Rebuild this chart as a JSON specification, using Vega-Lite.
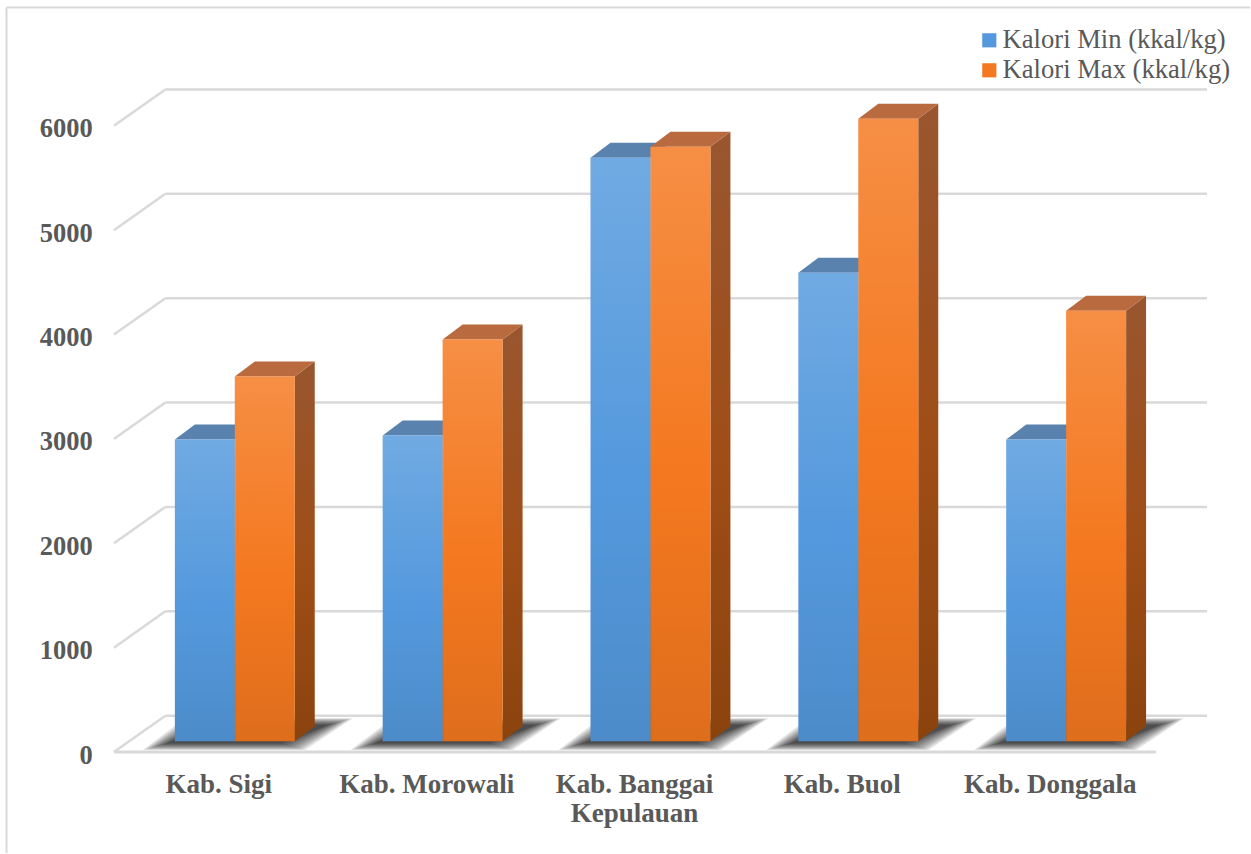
{
  "$schema": "https://vega.github.io/schema/vega-lite/v6.json",
  "width": 1251,
  "height": 854,
  "autosize": {"type": "fit", "contains": "padding"},
  "padding": 0,
  "background": "#ffffff",
  "config": {"view": {"stroke": null}},
  "data": {
    "values": [
      {"region": "Kab. Sigi", "series": "Kalori Min (kkal/kg)", "value": 2890},
      {"region": "Kab. Sigi", "series": "Kalori Max (kkal/kg)", "value": 3493},
      {"region": "Kab. Morowali", "series": "Kalori Min (kkal/kg)", "value": 2928},
      {"region": "Kab. Morowali", "series": "Kalori Max (kkal/kg)", "value": 3847},
      {"region": "Kab. Banggai Kepulauan", "series": "Kalori Min (kkal/kg)", "value": 5589},
      {"region": "Kab. Banggai Kepulauan", "series": "Kalori Max (kkal/kg)", "value": 5694},
      {"region": "Kab. Buol", "series": "Kalori Min (kkal/kg)", "value": 4488},
      {"region": "Kab. Buol", "series": "Kalori Max (kkal/kg)", "value": 5962},
      {"region": "Kab. Donggala", "series": "Kalori Min (kkal/kg)", "value": 2890},
      {"region": "Kab. Donggala", "series": "Kalori Max (kkal/kg)", "value": 4124}
    ]
  },
  "layer": [
    {
      "data": {"values": [{"level": 0}, {"level": 1000}, {"level": 2000}, {"level": 3000}, {"level": 4000}, {"level": 5000}, {"level": 6000}]},
      "transform": [
        {"calculate": "datum.level + 244", "as": "back"},
        {"calculate": "-0.3341", "as": "wallLeft"},
        {"calculate": "4.678", "as": "wallRight"}
      ],
      "mark": {"type": "rule", "color": "#D9D9D9", "strokeWidth": 2.5},
      "encoding": {
        "x": {"field": "wallLeft", "type": "quantitative", "scale": {"domain": [-1.12981, 4.88462], "nice": false}, "axis": null},
        "x2": {"field": "wallRight"},
        "y": {"field": "back", "type": "quantitative", "scale": {"domain": [-1071.8, 7100.5], "nice": false, "zero": false}, "axis": null}
      }
    },
    {
      "data": {"values": [{"level": 0}, {"level": 1000}, {"level": 2000}, {"level": 3000}, {"level": 4000}, {"level": 5000}, {"level": 6000}]},
      "transform": [
        {"calculate": "datum.level + 244", "as": "back"},
        {"calculate": "datum.level - 105", "as": "front"},
        {"calculate": "-0.5817", "as": "frontEdge"},
        {"calculate": "-0.3341", "as": "wallLeft"}
      ],
      "mark": {"type": "rule", "color": "#D9D9D9", "strokeWidth": 2.5},
      "encoding": {
        "x": {"field": "frontEdge", "type": "quantitative", "scale": {"domain": [-1.12981, 4.88462], "nice": false}, "axis": null},
        "x2": {"field": "wallLeft"},
        "y": {"field": "front", "type": "quantitative", "scale": {"domain": [-1071.8, 7100.5], "nice": false, "zero": false}, "axis": null},
        "y2": {"field": "back"}
      }
    },
    {
      "data": {"values": [{"level": 0}, {"level": 1000}, {"level": 2000}, {"level": 3000}, {"level": 4000}, {"level": 5000}, {"level": 6000}]},
      "transform": [
        {"calculate": "datum.level - 215", "as": "labelY"},
        {"calculate": "-0.6841", "as": "labelX"}
      ],
      "mark": {"type": "text", "font": "Liberation Serif", "fontSize": 26.5, "fontWeight": "bold", "color": "#595959", "align": "right", "baseline": "alphabetic"},
      "encoding": {
        "x": {"field": "labelX", "type": "quantitative", "scale": {"domain": [-1.12981, 4.88462], "nice": false}, "axis": null},
        "y": {"field": "labelY", "type": "quantitative", "scale": {"domain": [-1071.8, 7100.5], "nice": false, "zero": false}, "axis": null},
        "text": {"field": "level", "type": "quantitative", "format": "d"}
      }
    },
    {
      "data": {"values": [{"edge": "front of floor"}]},
      "transform": [
        {"calculate": "-105", "as": "floorY"},
        {"calculate": "-0.5817", "as": "floorLeft"},
        {"calculate": "4.4327", "as": "floorRight"}
      ],
      "mark": {"type": "rule", "color": "#D9D9D9", "strokeWidth": 3},
      "encoding": {
        "x": {"field": "floorLeft", "type": "quantitative", "scale": {"domain": [-1.12981, 4.88462], "nice": false}, "axis": null},
        "x2": {"field": "floorRight"},
        "y": {"field": "floorY", "type": "quantitative", "scale": {"domain": [-1071.8, 7100.5], "nice": false, "zero": false}, "axis": null}
      }
    },
    {
      "data": {"values": [{"edge": "top of frame"}]},
      "transform": [
        {"calculate": "7028.7", "as": "frameY"},
        {"calculate": "-1.0986", "as": "frameLeft"},
        {"calculate": "4.88462", "as": "frameRight"}
      ],
      "mark": {"type": "rule", "color": "#D9D9D9", "strokeWidth": 2},
      "encoding": {
        "x": {"field": "frameLeft", "type": "quantitative", "scale": {"domain": [-1.12981, 4.88462], "nice": false}, "axis": null},
        "x2": {"field": "frameRight"},
        "y": {"field": "frameY", "type": "quantitative", "scale": {"domain": [-1071.8, 7100.5], "nice": false, "zero": false}, "axis": null}
      }
    },
    {
      "data": {"values": [{"edge": "left of frame"}]},
      "transform": [
        {"calculate": "7028.7", "as": "frameTop"},
        {"calculate": "-1071.8", "as": "frameBottom"},
        {"calculate": "-1.0986", "as": "frameLeft"}
      ],
      "mark": {"type": "rule", "color": "#D9D9D9", "strokeWidth": 2},
      "encoding": {
        "x": {"field": "frameLeft", "type": "quantitative", "scale": {"domain": [-1.12981, 4.88462], "nice": false}, "axis": null},
        "y": {"field": "frameTop", "type": "quantitative", "scale": {"domain": [-1071.8, 7100.5], "nice": false, "zero": false}, "axis": null},
        "y2": {"field": "frameBottom"}
      }
    },
    {
      "transform": [
        {"filter": "datum.series === 'Kalori Min (kkal/kg)'"},
        {"calculate": "indexof(['Kab. Sigi','Kab. Morowali','Kab. Banggai Kepulauan','Kab. Buol','Kab. Donggala'], datum.region)", "as": "idx"},
        {"calculate": "[0,1,2,3,4,5,6,7,8]", "as": "step"},
        {"flatten": ["step"]},
        {"calculate": "[0,1]", "as": "t"},
        {"flatten": ["t"]},
        {"calculate": "datum.region + datum.step", "as": "layerKey"},
        {"calculate": "(-9 + 32 * datum.t + 0.85 * datum.step * (1 - 2 * datum.t)) / 0.1045", "as": "sy"},
        {"calculate": "datum.idx + (-92 + 42 * datum.t + 3 * datum.step) / 208", "as": "sx"},
        {"calculate": "datum.idx + (70 + 48 * datum.t - 3 * datum.step) / 208", "as": "sx2"}
      ],
      "mark": {"type": "area", "orient": "horizontal", "color": "#000000", "opacity": 0.12},
      "encoding": {
        "detail": {"field": "layerKey", "type": "nominal"},
        "y": {"field": "sy", "type": "quantitative", "stack": null, "scale": {"domain": [-1071.8, 7100.5], "nice": false, "zero": false}, "axis": null},
        "x": {"field": "sx", "type": "quantitative", "scale": {"domain": [-1.12981, 4.88462], "nice": false}, "axis": null},
        "x2": {"field": "sx2"}
      }
    },
    {
      "transform": [
        {"filter": "datum.series === 'Kalori Min (kkal/kg)'"},
        {"calculate": "indexof(['Kab. Sigi','Kab. Morowali','Kab. Banggai Kepulauan','Kab. Buol','Kab. Donggala'], datum.region)", "as": "idx"},
        {"calculate": "[0,1]", "as": "t"},
        {"flatten": ["t"]},
        {"calculate": "datum.value + datum.t * 143.5", "as": "ty"},
        {"calculate": "datum.idx + (-60 + 20 * datum.t) / 208", "as": "tx"},
        {"calculate": "datum.idx + (20 * datum.t) / 208", "as": "tx2"}
      ],
      "mark": {"type": "area", "orient": "horizontal", "color": "#5A82AE"},
      "encoding": {
        "detail": {"field": "region", "type": "nominal"},
        "y": {"field": "ty", "type": "quantitative", "stack": null, "scale": {"domain": [-1071.8, 7100.5], "nice": false, "zero": false}, "axis": null},
        "x": {"field": "tx", "type": "quantitative", "scale": {"domain": [-1.12981, 4.88462], "nice": false}, "axis": null},
        "x2": {"field": "tx2"}
      }
    },
    {
      "transform": [
        {"filter": "datum.series === 'Kalori Max (kkal/kg)'"},
        {"calculate": "indexof(['Kab. Sigi','Kab. Morowali','Kab. Banggai Kepulauan','Kab. Buol','Kab. Donggala'], datum.region)", "as": "idx"},
        {"calculate": "[0,1]", "as": "t"},
        {"flatten": ["t"]},
        {"calculate": "datum.value + datum.t * 143.5", "as": "sy"},
        {"calculate": "datum.t * 143.5", "as": "sy2"},
        {"calculate": "datum.idx + (60 + 20 * datum.t) / 208", "as": "sx"}
      ],
      "mark": {
        "type": "area",
        "color": {"gradient": "linear", "x1": 0, "y1": 0, "x2": 0, "y2": 1, "stops": [
          {"offset": 0, "color": "#99562F"},
          {"offset": 0.55, "color": "#9F4D16"},
          {"offset": 1, "color": "#8B430E"}
        ]}
      },
      "encoding": {
        "detail": {"field": "region", "type": "nominal"},
        "x": {"field": "sx", "type": "quantitative", "scale": {"domain": [-1.12981, 4.88462], "nice": false}, "axis": null},
        "y": {"field": "sy", "type": "quantitative", "stack": null, "scale": {"domain": [-1071.8, 7100.5], "nice": false, "zero": false}, "axis": null},
        "y2": {"field": "sy2"}
      }
    },
    {
      "transform": [
        {"filter": "datum.series === 'Kalori Max (kkal/kg)'"},
        {"calculate": "indexof(['Kab. Sigi','Kab. Morowali','Kab. Banggai Kepulauan','Kab. Buol','Kab. Donggala'], datum.region)", "as": "idx"},
        {"calculate": "[0,1]", "as": "t"},
        {"flatten": ["t"]},
        {"calculate": "datum.value + datum.t * 143.5", "as": "ty"},
        {"calculate": "datum.idx + (20 * datum.t) / 208", "as": "tx"},
        {"calculate": "datum.idx + (60 + 20 * datum.t) / 208", "as": "tx2"}
      ],
      "mark": {"type": "area", "orient": "horizontal", "color": "#B96A3E"},
      "encoding": {
        "detail": {"field": "region", "type": "nominal"},
        "y": {"field": "ty", "type": "quantitative", "stack": null, "scale": {"domain": [-1071.8, 7100.5], "nice": false, "zero": false}, "axis": null},
        "x": {"field": "tx", "type": "quantitative", "scale": {"domain": [-1.12981, 4.88462], "nice": false}, "axis": null},
        "x2": {"field": "tx2"}
      }
    },
    {
      "transform": [
        {"calculate": "indexof(['Kab. Sigi','Kab. Morowali','Kab. Banggai Kepulauan','Kab. Buol','Kab. Donggala'], datum.region)", "as": "idx"},
        {"calculate": "datum.idx + (datum.series === 'Kalori Min (kkal/kg)' ? -60 : 0) / 208", "as": "left"},
        {"calculate": "datum.left + (datum.series === 'Kalori Min (kkal/kg)' ? 60.8 : 60) / 208", "as": "right"},
        {"calculate": "0", "as": "base"}
      ],
      "mark": {"type": "rect"},
      "encoding": {
        "x": {"field": "left", "type": "quantitative", "scale": {"domain": [-1.12981, 4.88462], "nice": false}, "axis": null},
        "x2": {"field": "right"},
        "y": {"field": "value", "type": "quantitative", "scale": {"domain": [-1071.8, 7100.5], "nice": false, "zero": false}, "axis": null},
        "y2": {"field": "base"},
        "color": {
          "field": "series",
          "type": "nominal",
          "scale": {
            "domain": ["Kalori Min (kkal/kg)", "Kalori Max (kkal/kg)"],
            "range": ["#5499DD", "#F4781F"]
          },
          "legend": {
            "orient": "none",
            "legendX": 976,
            "legendY": 27,
            "title": null,
            "symbolType": "square",
            "symbolSize": 200,
            "labelFont": "Liberation Serif",
            "labelFontSize": 26.6,
            "labelColor": "#595959",
            "labelOffset": 0,
            "labelLimit": 300,
            "rowPadding": 3
          }
        }
      }
    },
    {
      "transform": [
        {"calculate": "indexof(['Kab. Sigi','Kab. Morowali','Kab. Banggai Kepulauan','Kab. Buol','Kab. Donggala'], datum.region)", "as": "idx"},
        {"calculate": "datum.idx + (datum.series === 'Kalori Min (kkal/kg)' ? -60 : 0) / 208", "as": "left"},
        {"calculate": "datum.left + (datum.series === 'Kalori Min (kkal/kg)' ? 60.8 : 60) / 208", "as": "right"},
        {"calculate": "0", "as": "base"}
      ],
      "mark": {
        "type": "rect",
        "color": {"gradient": "linear", "x1": 0, "y1": 0, "x2": 0, "y2": 1, "stops": [
          {"offset": 0, "color": "rgba(255,255,255,0.17)"},
          {"offset": 0.55, "color": "rgba(255,255,255,0)"},
          {"offset": 0.56, "color": "rgba(0,0,0,0)"},
          {"offset": 1, "color": "rgba(0,0,0,0.09)"}
        ]}
      },
      "encoding": {
        "x": {"field": "left", "type": "quantitative", "scale": {"domain": [-1.12981, 4.88462], "nice": false}, "axis": null},
        "x2": {"field": "right"},
        "y": {"field": "value", "type": "quantitative", "scale": {"domain": [-1071.8, 7100.5], "nice": false, "zero": false}, "axis": null},
        "y2": {"field": "base"}
      }
    },
    {
      "transform": [
        {"filter": "datum.series === 'Kalori Min (kkal/kg)'"},
        {"calculate": "indexof(['Kab. Sigi','Kab. Morowali','Kab. Banggai Kepulauan','Kab. Buol','Kab. Donggala'], datum.region)", "as": "idx"},
        {"calculate": "replace(datum.region, 'Banggai ', 'Banggai\\n')", "as": "label"},
        {"calculate": "datum.idx - 16 / 208", "as": "labelX"},
        {"calculate": "-500", "as": "labelY"}
      ],
      "mark": {"type": "text", "font": "Liberation Serif", "fontSize": 27, "fontWeight": "bold", "color": "#595959", "lineBreak": "\n", "lineHeight": 29, "baseline": "alphabetic", "align": "center"},
      "encoding": {
        "x": {"field": "labelX", "type": "quantitative", "scale": {"domain": [-1.12981, 4.88462], "nice": false}, "axis": null},
        "y": {"field": "labelY", "type": "quantitative", "scale": {"domain": [-1071.8, 7100.5], "nice": false, "zero": false}, "axis": null},
        "text": {"field": "label", "type": "nominal"}
      }
    }
  ]
}
